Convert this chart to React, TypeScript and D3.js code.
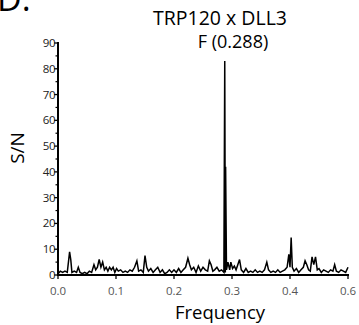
import React from "react";
import * as d3 from "d3";

const freqs = [
  0.000, 0.004, 0.008, 0.012, 0.016, 0.020, 0.022, 0.024, 0.028, 0.032, 0.035, 0.038, 0.042, 0.046, 0.050,
  0.054, 0.058, 0.062, 0.065, 0.068, 0.071, 0.074, 0.077, 0.080, 0.083, 0.086, 0.089, 0.092, 0.095, 0.098,
  0.101, 0.104, 0.108, 0.112, 0.116, 0.120, 0.124, 0.128, 0.132, 0.136, 0.139, 0.143, 0.147, 0.150, 0.153,
  0.156, 0.160, 0.164, 0.168, 0.172, 0.176, 0.180, 0.184, 0.188, 0.192, 0.196, 0.200, 0.204, 0.208, 0.212,
  0.216, 0.220, 0.224, 0.227, 0.230, 0.234, 0.238, 0.242, 0.246, 0.250, 0.254, 0.258, 0.261, 0.264, 0.267,
  0.270, 0.274, 0.278, 0.282, 0.286, 0.2875, 0.2885, 0.289, 0.2905, 0.293, 0.296, 0.298, 0.301, 0.304, 0.307,
  0.310, 0.313, 0.316, 0.320, 0.324, 0.328, 0.332, 0.336, 0.340, 0.344, 0.348, 0.352, 0.356, 0.360, 0.363,
  0.367, 0.371, 0.375, 0.379, 0.383, 0.387, 0.391, 0.395, 0.398, 0.400, 0.402, 0.404, 0.407, 0.411, 0.415,
  0.419, 0.423, 0.426, 0.429, 0.432, 0.435, 0.438, 0.441, 0.444, 0.447, 0.450, 0.454, 0.458, 0.462, 0.466,
  0.470, 0.474, 0.477, 0.480, 0.484, 0.488, 0.492, 0.496, 0.500,
];

const snValues = [
  0.5, 1.5, 1, 1.5, 1, 9, 6, 1, 1.5, 1, 3, 1, 0.5, 1, 0.5,
  1.5, 1, 4, 2, 3, 6, 3, 5, 2, 3, 1.5, 3, 2, 3, 1,
  2.5, 1.5, 2, 1, 1.5, 1, 2, 1.5, 3, 5.5, 1.5, 2, 1, 7.5, 3,
  1.5, 2.5, 1, 2, 3, 1, 2, 0.5, 1, 2, 1, 2, 1, 2.5, 1,
  2, 3, 6.5, 4, 2, 3, 1, 3.5, 1.5, 3, 2, 1.5, 5.5, 4, 1.5,
  2, 3, 1.5, 2, 1, 83, 1, 42, 2, 5, 2, 5, 2.5, 3.5, 2,
  4, 6, 2, 1, 2.5, 1, 1.5, 1, 2, 1, 1.5, 1, 2, 5, 2,
  1, 1.5, 1, 2, 1, 1.5, 2, 3, 8, 3, 14.5, 3, 1.5, 2.5, 1,
  2, 3, 5.5, 4, 2, 1.5, 7, 4, 7, 2, 2.5, 1, 2, 1.5, 1,
  2, 1.5, 4, 1.5, 1, 2, 1.5, 1, 3,
];

const xTickValues = [0, 0.1, 0.2, 0.3, 0.4, 0.5];
const xTickLabels = ["0.0", "0.1", "0.2", "0.3", "0.4", "0.6"];
const yTickValues = [0, 10, 20, 30, 40, 50, 60, 70, 80, 90];
const yMinorTicks = [5, 15, 25, 35, 45, 55, 65, 75, 85];

const title = "TRP120 x DLL3";
const peakLabel = "F (0.288)";
const xTitle = "Frequency";
const yTitle = "S/N";
const panelLetter = "D.";

const W = 359;
const H = 325;
const FONT = "'Open Sans', 'Noto Sans', sans-serif";

export default function App() {
  const x = d3.scaleLinear().domain([0, 0.5]).range([58, 348]);
  const y = d3.scaleLinear().domain([0, 90]).range([275, 43]);
  const pts: [number, number][] = freqs.map((f, i) => [f, snValues[i]]);
  const line = d3
    .line<[number, number]>()
    .x((d) => x(d[0]))
    .y((d) => y(d[1]));

  return (
    <div style={{ position: "absolute", left: 0, top: 0 }}>
      <svg width={W} height={H} style={{ display: "block", background: "#fff" }}>
        <text x={-3} y={11} fontFamily={FONT} fontSize={34} fill="#000">
          {panelLetter}
        </text>
        <text x={220} y={25} textAnchor="middle" fontFamily={FONT} fontSize={19.5} fill="#000">
          {title}
        </text>
        <text x={233} y={48} textAnchor="middle" fontFamily={FONT} fontSize={18} fill="#000">
          {peakLabel}
        </text>

        {/* data */}
        <path d={line(pts) || ""} fill="none" stroke="#000" strokeWidth={1.5} strokeLinejoin="miter" />

        {/* y axis */}
        <line x1={58} x2={58} y1={y(90) - 1} y2={y(0) + 1} stroke="#000" strokeWidth={2} />
        {yTickValues.map((v) => (
          <g key={"y" + v}>
            <line x1={54} x2={58} y1={y(v)} y2={y(v)} stroke="#000" strokeWidth={1.3} />
            <text
              x={55}
              y={y(v)}
              dy="0.35em"
              textAnchor="end"
              fontFamily={FONT}
              fontSize={11.5}
              fill="#222"
              letterSpacing={-0.5}
            >
              {v}
            </text>
          </g>
        ))}
        {yMinorTicks.map((v) => (
          <line key={"ym" + v} x1={55.5} x2={58} y1={y(v)} y2={y(v)} stroke="#000" strokeWidth={1.2} />
        ))}

        {/* x axis */}
        <line x1={x(0) - 1} x2={x(0.5) + 1} y1={y(0)} y2={y(0)} stroke="#000" strokeWidth={2} />
        {xTickValues.map((v, i) => (
          <g key={"x" + v}>
            <line x1={x(v)} x2={x(v)} y1={y(0)} y2={y(0) + 4} stroke="#000" strokeWidth={1.3} />
            <text
              x={x(v)}
              y={291}
              dy="0.35em"
              textAnchor="middle"
              fontFamily={FONT}
              fontSize={11.5}
              fill="#555"
            >
              {xTickLabels[i]}
            </text>
          </g>
        ))}

        <text x={220} y={319} textAnchor="middle" fontFamily={FONT} fontSize={18.5} fill="#000">
          {xTitle}
        </text>
        <text
          transform={`translate(24, 148) rotate(-90)`}
          textAnchor="middle"
          fontFamily={FONT}
          fontSize={19}
          fill="#000"
        >
          {yTitle}
        </text>
      </svg>
    </div>
  );
}
